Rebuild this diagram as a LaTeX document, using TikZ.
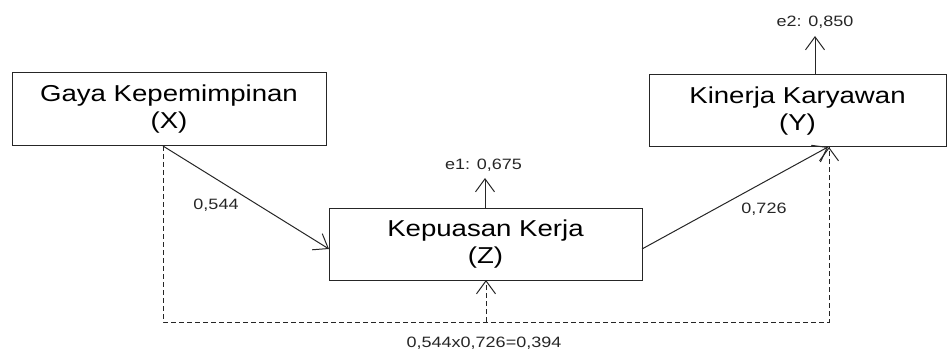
\documentclass[tikz,border=0pt]{standalone}
\usepackage{fontspec}
\setmainfont{Liberation Sans}
\newfontfamily\boxfont[FakeStretch=1.2]{Liberation Sans}
\newfontfamily\labfont[FakeStretch=1.2]{Liberation Sans}
\usetikzlibrary{arrows.meta}
\definecolor{ink}{HTML}{262626}
\tikzset{
  varbox/.style={draw=ink, line width=1pt, fill=white, align=center,
    font=\boxfont\fontsize{23}{27}\selectfont, inner sep=0pt},
  path/.style={draw=ink, line width=1pt, -{Straight Barb[length=13pt,width=19pt,line width=1pt]}},
  indirect/.style={draw=ink, line width=1pt, dash pattern=on 5pt off 3pt},
  coef/.style={font=\labfont\fontsize{15}{18}\selectfont, anchor=base, inner sep=0pt, text=ink}
}
\begin{document}
\begin{tikzpicture}[x=1pt, y=-1pt]
  \useasboundingbox (0,0) rectangle (948,350);
  % variables
  \node[varbox, minimum width=314pt, minimum height=73pt] (X) at (169,109.5) {Gaya Kepemimpinan\\(X)};
  \node[varbox, minimum width=313pt, minimum height=72pt] (Z) at (485.5,244) {Kepuasan Kerja\\(Z)};
  \node[varbox, minimum width=297pt, minimum height=72pt] (Y) at (797.5,111) {Kinerja Karyawan\\(Y)};
  % attachment points on the boxes
  \coordinate (xa) at (163,146);
  \coordinate (zin) at (329,249);
  \coordinate (zout) at (642,249);
  \coordinate (yin) at (828,147);
  \coordinate (zt) at (485,208);
  \coordinate (zb) at (486,280);
  \coordinate (yt) at (815,75);
  % error terms
  \node[coef] (e1) at (483.5,170) {e1: 0,675};
  \node[coef] (e2) at (815,27) {e2: 0,850};
  \coordinate (e1a) at (485,178);
  \coordinate (e2a) at (815,36);
  \draw[path] (zt) -- (e1a);
  \draw[path] (yt) -- (e2a);
  % direct paths
  \draw[path] (xa) -- (zin);
  \draw[path] (zout) -- (yin);
  \node[coef] (b1) at (216,209) {0,544};
  \node[coef] (b2) at (764,213) {0,726};
  % indirect path
  \coordinate (c1) at (163,322);
  \coordinate (cm) at (486,322);
  \coordinate (c2) at (829,322);
  \coordinate (yin2) at (829,147);
  \draw[indirect] (xa) -- (c1) -- (c2) -- (yin2);
  \draw[indirect] (cm) -- (zb);
  \draw[path] ([yshift=-1pt]yin2) -- (yin2);
  \draw[path] ([yshift=-1pt]zb) -- (zb);
  \node[coef] (ind) at (484,347) {0,544x0,726=0,394};
\end{tikzpicture}
\end{document}
